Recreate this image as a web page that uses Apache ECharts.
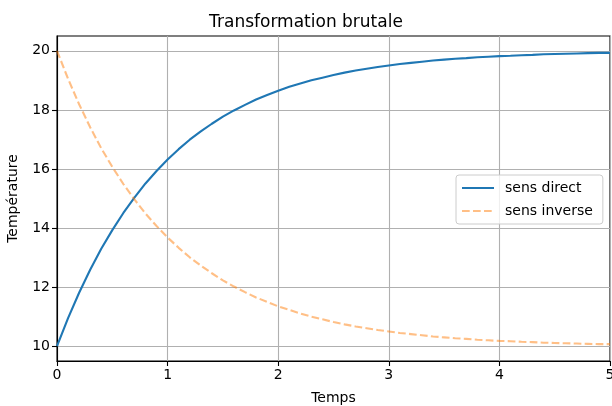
<!DOCTYPE html>
<html>
<head>
<meta charset="utf-8">
<script src="https://cdn.jsdelivr.net/npm/echarts@6/dist/echarts.min.js"></script>
<style>html,body{margin:0;padding:0;background:#fff}#c{width:612px;height:406px}</style>
</head>
<body>
<div id="c"></div>
<script>
var title = 'Transformation brutale';
var xLabel = 'Temps';
var yLabel = 'Température';
var names = ['sens direct', 'sens inverse'];
var xTicks = [0, 1, 2, 3, 4, 5];
var yTicks = [10, 12, 14, 16, 18, 20];
var temps = [0, 0.1, 0.2, 0.3, 0.4, 0.5, 0.6, 0.7, 0.8, 0.9, 1.0, 1.1, 1.2, 1.3, 1.4, 1.5, 1.6, 1.7, 1.8, 1.9, 2.0, 2.1, 2.2, 2.3, 2.4, 2.5, 2.6, 2.7, 2.8, 2.9, 3.0, 3.1, 3.2, 3.3, 3.4, 3.5, 3.6, 3.7, 3.8, 3.9, 4.0, 4.1, 4.2, 4.3, 4.4, 4.5, 4.6, 4.7, 4.8, 4.9, 5.0];
var direct = [10.00, 10.95, 11.81, 12.59, 13.30, 13.93, 14.51, 15.03, 15.51, 15.93, 16.32, 16.67, 16.99, 17.27, 17.53, 17.77, 17.98, 18.17, 18.35, 18.50, 18.65, 18.78, 18.89, 19.00, 19.09, 19.18, 19.26, 19.33, 19.39, 19.45, 19.50, 19.55, 19.59, 19.63, 19.67, 19.70, 19.73, 19.75, 19.78, 19.80, 19.82, 19.83, 19.85, 19.86, 19.88, 19.89, 19.90, 19.91, 19.92, 19.93, 19.93];
var inverse = [20.00, 19.05, 18.19, 17.41, 16.70, 16.07, 15.49, 14.97, 14.49, 14.07, 13.68, 13.33, 13.01, 12.73, 12.47, 12.23, 12.02, 11.83, 11.65, 11.50, 11.35, 11.23, 11.11, 11.00, 10.91, 10.82, 10.74, 10.67, 10.61, 10.55, 10.50, 10.45, 10.41, 10.37, 10.33, 10.30, 10.27, 10.25, 10.22, 10.20, 10.18, 10.17, 10.15, 10.14, 10.12, 10.11, 10.10, 10.09, 10.08, 10.07, 10.07];

function pairs(xs, ys) { return xs.map(function (x, i) { return [x, ys[i]]; }); }

var font = 'DejaVu Sans';
var chart = echarts.init(document.getElementById('c'), null, {renderer: 'canvas'});
chart.setOption({
  animation: false,
  backgroundColor: '#fff',
  title: {
    text: title, left: 'center', top: 9,
    textStyle: {fontFamily: font, fontSize: 17, fontWeight: 'normal', color: '#000'}
  },
  grid: {left: 57, right: 2, top: 36, bottom: 45, containLabel: false, outerBoundsMode: 'none',
    show: true, borderColor: '#000', borderWidth: 1.1, backgroundColor: 'transparent'},
  legend: {
    orient: 'vertical', left: 456, top: 175,
    padding: [6, 10, 6, 5],
    itemWidth: 32, itemHeight: 14, itemGap: 9,
    backgroundColor: 'rgba(255,255,255,0.8)', borderColor: '#cccccc', borderWidth: 1, borderRadius: 3,
    itemStyle: {opacity: 0},
    textStyle: {fontFamily: font, fontSize: 14, color: '#000', padding: [0, 0, 0, 6]},
    data: names
  },
  xAxis: {
    type: 'value', min: 0, max: 5, interval: 1,
    name: xLabel, nameLocation: 'middle', nameGap: 30,
    nameTextStyle: {fontFamily: font, fontSize: 14, color: '#000'},
    axisLine: {show: true, onZero: false, lineStyle: {color: '#000', width: 1.1}},
    axisTick: {show: true, length: 5, lineStyle: {color: '#000', width: 1.1}},
    axisLabel: {fontFamily: font, fontSize: 14, color: '#000', margin: 7, customValues: xTicks},
    splitLine: {show: true, lineStyle: {color: '#b0b0b0', width: 1.1}}
  },
  yAxis: {
    type: 'value', min: 9.5, max: 20.5, interval: 0.5,
    name: yLabel, nameLocation: 'middle', nameGap: 37,
    nameTextStyle: {fontFamily: font, fontSize: 14, color: '#000'},
    axisLine: {show: true, onZero: false, lineStyle: {color: '#000', width: 1.1}},
    axisTick: {show: true, length: 5, lineStyle: {color: '#000', width: 1.1}, customValues: yTicks},
    axisLabel: {fontFamily: font, fontSize: 14, color: '#000', margin: 7, customValues: yTicks},
    splitLine: {show: true, lineStyle: {color: '#b0b0b0', width: 1.1}}
  },
  series: [
    {
      name: names[0], type: 'line', data: pairs(temps, direct),
      symbol: 'none', showSymbol: false,
      lineStyle: {color: '#1f77b4', width: 2.1},
      itemStyle: {color: '#1f77b4'}
    },
    {
      name: names[1], type: 'line', data: pairs(temps, inverse),
      symbol: 'none', showSymbol: false,
      lineStyle: {color: 'rgba(255,127,14,0.5)', width: 2.1, type: [7.7, 3.3]},
      itemStyle: {color: 'rgba(255,127,14,0.5)'}
    }
  ]
});
</script>
</body>
</html>
